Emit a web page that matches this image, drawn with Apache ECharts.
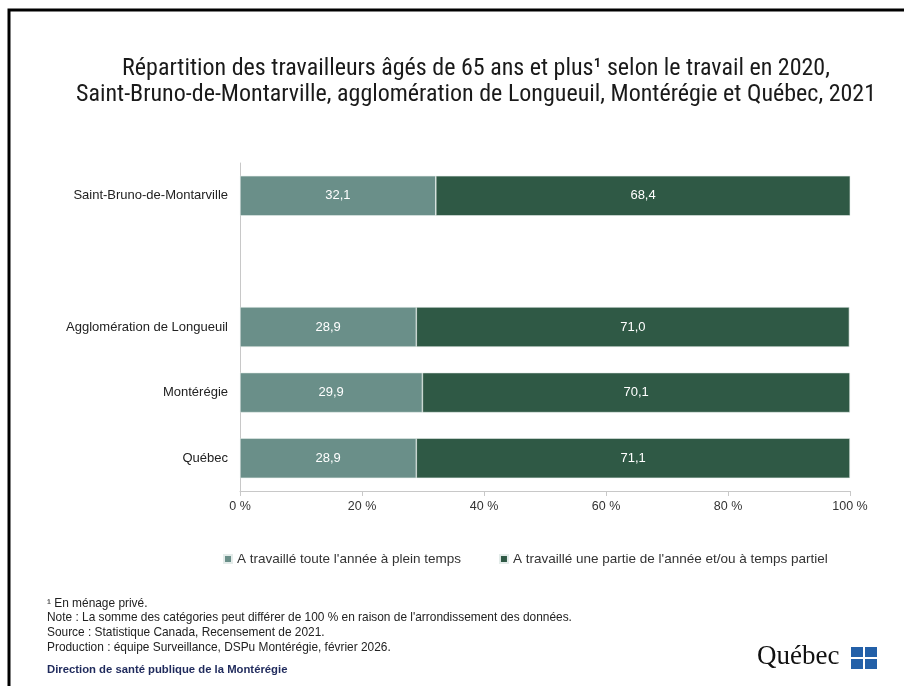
<!DOCTYPE html>
<html><head><meta charset="utf-8">
<script src="https://cdn.jsdelivr.net/npm/echarts@6/dist/echarts.min.js"></script>
<style>html,body{margin:0;padding:0;background:#fff}#c{width:904px;height:686px}</style>
</head><body><div id="c"></div>
<script>
const categories = ['Saint-Bruno-de-Montarville', '', 'Agglomération de Longueuil', 'Montérégie', 'Québec'];
const pleinTemps = [32.1, '-', 28.9, 29.9, 28.9];
const partiel = [68.4, '-', 71.0, 70.1, 71.1];
const seriesNames = ["A travaillé toute l'année à plein temps", "A travaillé une partie de l'année et/ou à temps partiel"];
const xTicks = [0, 20, 40, 60, 80, 100];

const chart = echarts.init(document.getElementById('c'));
const fmt = p => (typeof p.value === 'number') ? p.value.toFixed(1).replace('.', ',') : '';
const narrow = "'Liberation Sans Narrow', 'Roboto Condensed', 'Liberation Sans', sans-serif";
const labelFont = "'Liberation Sans', Arial, sans-serif";
chart.setOption({
  animation: false,
  title: {
    text: 'Répartition des travailleurs âgés de 65 ans et plus¹ selon le travail en 2020,\nSaint-Bruno-de-Montarville, agglomération de Longueuil, Montérégie et Québec, 2021',
    left: 471, top: 51, textAlign: 'center',
    textStyle: { fontFamily: narrow, fontSize: 24, fontWeight: 'normal', color: '#1a1a1a', lineHeight: 26 }
  },
  grid: { left: 240, right: 54, top: 163, bottom: 195 },
  legend: {
    data: seriesNames, top: 547, left: 218, itemWidth: 8, itemHeight: 8, itemGap: 38,
    icon: 'rect', textStyle: { fontFamily: labelFont, fontSize: 13.5, color: '#333' }
  },
  xAxis: {
    type: 'value', min: 0, max: 100, interval: 20,
    axisLine: { show: true, lineStyle: { color: '#c8c8c8' } },
    axisTick: { show: true, length: 5, lineStyle: { color: '#c8c8c8' } },
    splitLine: { show: false },
    axisLabel: { formatter: v => xTicks.includes(v) ? v + ' %' : '', fontFamily: labelFont, fontSize: 12.5, color: '#333', margin: 9 }
  },
  yAxis: {
    type: 'category', data: categories, inverse: true,
    axisLine: { show: true, lineStyle: { color: '#c8c8c8' } },
    axisTick: { show: false },
    axisLabel: { fontFamily: labelFont, fontSize: 13, color: '#222', margin: 12 }
  },
  series: [
    { name: seriesNames[0], type: 'bar', stack: 't', data: pleinTemps, barWidth: 40,
      itemStyle: { color: '#6a8f89', borderColor: '#e4ecea', borderWidth: 0.6 },
      label: { show: true, position: 'inside', formatter: fmt, color: '#fff', fontFamily: labelFont, fontSize: 13 } },
    { name: seriesNames[1], type: 'bar', stack: 't', data: partiel, barWidth: 40,
      itemStyle: { color: '#2f5945', borderColor: '#e4ecea', borderWidth: 0.6 },
      label: { show: true, position: 'inside', formatter: fmt, color: '#fff', fontFamily: labelFont, fontSize: 13 } }
  ],
  graphic: [
    { type: 'polyline', shape: { points: [[9, 700], [9, 10], [910, 10]] }, style: { stroke: '#000', lineWidth: 3, fill: null } },
    { type: 'text', left: 47, top: 596, style: { text: '¹ En ménage privé.\nNote : La somme des catégories peut différer de 100 % en raison de l\'arrondissement des données.\nSource : Statistique Canada, Recensement de 2021.\nProduction : équipe Surveillance, DSPu Montérégie, février 2026.', font: "11.9px " + labelFont, fill: '#222', lineHeight: 14.7 } },
    { type: 'text', left: 47, top: 664, style: { text: 'Direction de santé publique de la Montérégie', font: "bold 11.3px " + labelFont, fill: '#1f2a5c' } },
    { type: 'text', left: 757, top: 643, style: { text: 'Québec', font: "27px 'Liberation Serif', 'DejaVu Serif', serif", fill: '#111' } },
    { type: 'rect', shape: { x: 851, y: 647, width: 12, height: 10 }, style: { fill: '#2360a8' } },
    { type: 'rect', shape: { x: 865, y: 647, width: 12, height: 10 }, style: { fill: '#2360a8' } },
    { type: 'rect', shape: { x: 851, y: 659, width: 12, height: 10 }, style: { fill: '#2360a8' } },
    { type: 'rect', shape: { x: 865, y: 659, width: 12, height: 10 }, style: { fill: '#2360a8' } },
    { type: 'rect', shape: { x: 863, y: 645, width: 2, height: 26 }, style: { fill: '#fff' } },
    { type: 'rect', shape: { x: 849, y: 657, width: 30, height: 2 }, style: { fill: '#fff' } }
  ]
});
</script></body></html>
